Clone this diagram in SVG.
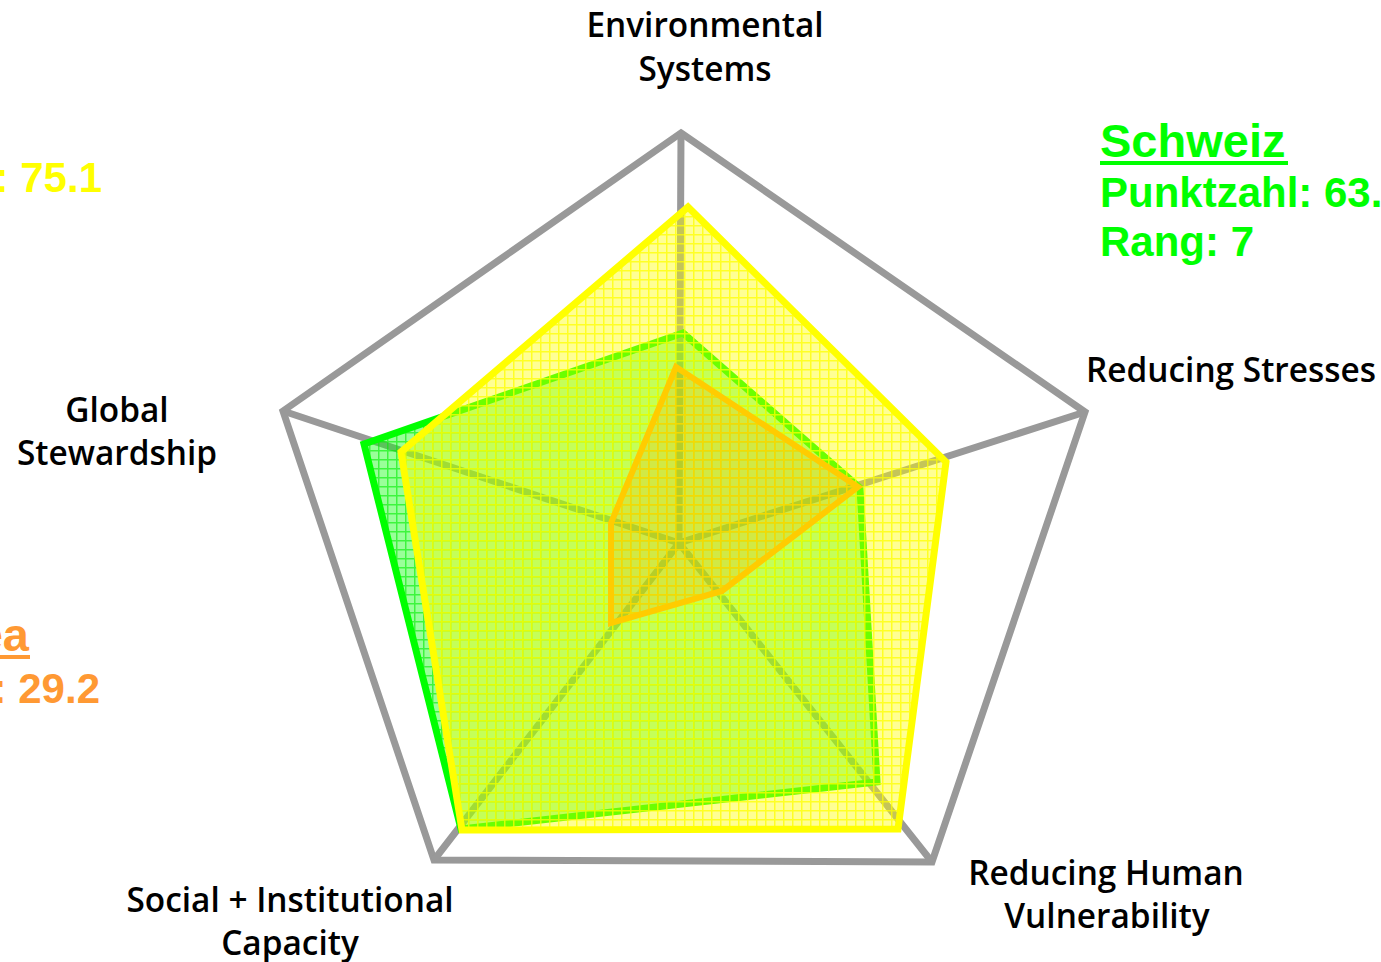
<svg xmlns="http://www.w3.org/2000/svg" width="1381" height="962" viewBox="0 0 1381 962">
<style>
.lbl{font-family:"Open Sans","DejaVu Sans",sans-serif;font-weight:600;font-size:33.4px;fill:#000;text-anchor:middle}
.leg{font-family:"Liberation Sans",Arial,sans-serif;font-weight:bold}
.axis{stroke:#999;stroke-width:7;fill:none;stroke-linejoin:miter}
</style>
<defs>
<pattern id="pY" width="9" height="9" patternUnits="userSpaceOnUse">
<rect width="9" height="9" fill="#ffff00" fill-opacity="0.42"/>
<path d="M0 0.75H9M0.75 0V9" stroke="#ffff00" stroke-width="1.5" stroke-opacity="0.75"/>
</pattern>
<pattern id="pG" width="9" height="9" patternUnits="userSpaceOnUse">
<rect width="9" height="9" fill="#00ff00" fill-opacity="0.4"/>
<path d="M0 0.75H9M0.75 0V9" stroke="#00ee00" stroke-width="1.5" stroke-opacity="0.6"/>
</pattern>
<pattern id="pO" width="9" height="9" patternUnits="userSpaceOnUse">
<rect width="9" height="9" fill="#ff9900" fill-opacity="0.22"/>
<path d="M0 0.75H9M0.75 0V9" stroke="#ffcc00" stroke-width="1.5" stroke-opacity="0.5"/>
</pattern>
</defs>
<g id="grid">
<polygon class="axis" points="681,133 1085,412 932,862 434,860 283,411"/>
</g>
<g id="connectors">
<path class="axis" d="M679,543L681,133M679,543L1085,412M679,543L932,862M679,543L434,860M679,543L283,411"/>
</g>
<g id="series-schweiz">
<polygon points="683,333 860,488 877,782 461,829 364,444" fill="url(#pG)" stroke="#00ff00" stroke-width="7" stroke-linejoin="miter"/>
</g>
<g id="series-yellow">
<polygon points="688,207 946,462 898,829 462,830 401,452" fill="url(#pY)" stroke="#ffff00" stroke-width="7" stroke-linejoin="miter"/>
</g>
<g id="series-orange">
<polygon points="676,367 858,487 722,591 611,623 611,523" fill="url(#pO)" stroke="#ffcc00" stroke-width="6" stroke-linejoin="miter"/>
</g>
<g id="label-env"><text class="lbl" x="705" y="37">Environmental</text><text class="lbl" x="705" y="81">Systems</text></g>
<g id="label-stress"><text class="lbl" x="1231" y="382">Reducing Stresses</text></g>
<g id="label-human"><text class="lbl" x="1106" y="885">Reducing Human</text><text class="lbl" x="1107" y="928">Vulnerability</text></g>
<g id="label-social"><text class="lbl" x="290" y="912">Social + Institutional</text><text class="lbl" x="290" y="955">Capacity</text></g>
<g id="label-global"><text class="lbl" x="117" y="422">Global</text><text class="lbl" x="117" y="465">Stewardship</text></g>
<g id="legend-schweiz" class="leg" fill="#00ff00">
<text x="1100" y="157" font-size="47">Schweiz</text>
<rect x="1100" y="161" width="188" height="4"/>
<text x="1100" y="207" font-size="42">Punktzahl: 63.</text>
<text x="1100" y="256" font-size="42">Rang: 7</text>
</g>
<g id="legend-yellow" class="leg" fill="#ffff00">
<text x="102" y="192" font-size="42" text-anchor="end">: 75.1</text>
</g>
<g id="legend-orange" class="leg" fill="#ff9933">
<text x="29" y="651" font-size="47" text-anchor="end">ea</text>
<rect x="0" y="655" width="30" height="4"/>
<text x="100" y="703" font-size="42" text-anchor="end">: 29.2</text>
</g>
</svg>
